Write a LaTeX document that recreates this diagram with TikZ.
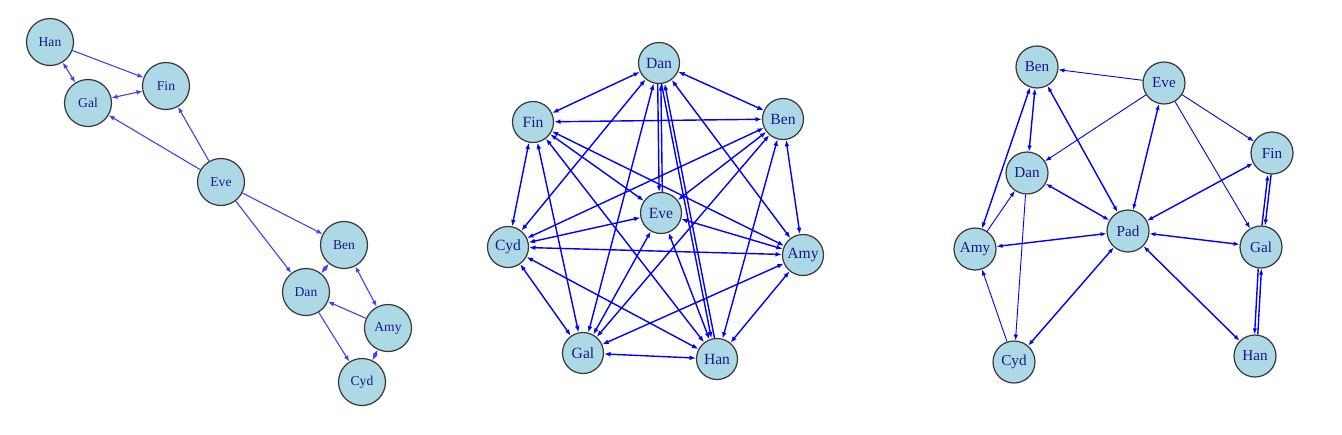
\documentclass[tikz,border=0pt]{standalone}
\usepackage{fontspec}
\setmainfont{Liberation Serif}
\usetikzlibrary{arrows.meta, backgrounds}

\definecolor{nodefill}{RGB}{173,216,230}
\definecolor{nodetext}{RGB}{25,25,140}
\definecolor{nodeline}{RGB}{55,55,55}

\tikzset{
    vertex/.style={circle, draw=nodeline, fill=nodefill, text=nodetext, inner sep=0pt, line width=0.6pt},
    vertexL/.style={vertex, minimum size=23.5pt, font=\fontsize{6.8}{7}\selectfont},
    vertexM/.style={vertex, minimum size=20.5pt, font=\fontsize{7.8}{8}\selectfont},
    vertexR/.style={vertex, minimum size=21pt, font=\fontsize{7.6}{8}\selectfont},
    edgeL/.style={draw=blue!75, line width=0.55pt, >={Latex[length=3pt,width=2.4pt]}},
    edgeM/.style={draw=blue, line width=0.7pt, >={Latex[length=3.2pt,width=2.4pt]}},
    edgeR/.style={draw=blue, line width=0.45pt, >={Latex[length=3pt,width=2.2pt]}},
    edgeRthick/.style={draw=blue, line width=0.7pt, >={Latex[length=3pt,width=2.2pt]}}
}

\begin{document}
\begin{tikzpicture}[x=0.5pt, y=-0.5pt]
    \useasboundingbox (0,0) rectangle (1342,434);

    % Left graph
    \node (L-Han) at (50,42) [vertexL]{Han};
    \node (L-Fin) at (166,86) [vertexL]{Fin};
    \node (L-Gal) at (88,103) [vertexL]{Gal};
    \node (L-Eve) at (221,182) [vertexL]{Eve};
    \node (L-Ben) at (344,245) [vertexL]{Ben};
    \node (L-Dan) at (306,292) [vertexL]{Dan};
    \node (L-Amy) at (388,328) [vertexL]{Amy};
    \node (L-Cyd) at (362,382) [vertexL]{Cyd};

    % Middle graph
    \node (M-Dan) at (659,63) [vertexM]{Dan};
    \node (M-Ben) at (783,119) [vertexM]{Ben};
    \node (M-Fin) at (533,122) [vertexM]{Fin};
    \node (M-Eve) at (661,213) [vertexM]{Eve};
    \node (M-Cyd) at (508,247) [vertexM]{Cyd};
    \node (M-Amy) at (803,255) [vertexM]{Amy};
    \node (M-Gal) at (583,353) [vertexM]{Gal};
    \node (M-Han) at (717,359) [vertexM]{Han};

    % Right graph
    \node (R-Ben) at (1037,67) [vertexR]{Ben};
    \node (R-Eve) at (1164,83) [vertexR]{Eve};
    \node (R-Fin) at (1272,153) [vertexR]{Fin};
    \node (R-Dan) at (1027,173) [vertexR]{Dan};
    \node (R-Pad) at (1128,231) [vertexR]{Pad};
    \node (R-Amy) at (975,249) [vertexR]{Amy};
    \node (R-Gal) at (1261,247) [vertexR]{Gal};
    \node (R-Cyd) at (1014,362) [vertexR]{Cyd};
    \node (R-Han) at (1255,356) [vertexR]{Han};

    \begin{scope}[on background layer]
        % Left edges
        \draw[edgeL, ->] (L-Han) -- (L-Fin);
        \draw[edgeL, <->] (L-Han) -- (L-Gal);
        \draw[edgeL, <->] (L-Gal) -- (L-Fin);
        \draw[edgeL, ->] (L-Eve) -- (L-Gal);
        \draw[edgeL, ->] (L-Eve) -- (L-Fin);
        \draw[edgeL, ->] (L-Eve) -- (L-Ben);
        \draw[edgeL, ->] (L-Eve) -- (L-Dan);
        \draw[edgeL, <->] (L-Ben) -- (L-Dan);
        \draw[edgeL, <->] (L-Ben) -- (L-Amy);
        \draw[edgeL, ->] (L-Amy) -- (L-Dan);
        \draw[edgeL, ->] (L-Dan) -- (L-Cyd);
        \draw[edgeL, <->] (L-Cyd) -- (L-Amy);

        %%%%%%%%%%%%%%%%%%%
        % Middle edges
        \draw[edgeM, <->] (M-Dan) -- (M-Ben);
        \draw[edgeM, <->] (M-Dan) -- (M-Fin);
        \draw[edgeM, <->] (M-Dan) -- (M-Cyd);
        \draw[edgeM, <->] (M-Dan) -- (M-Amy);
        \draw[edgeM, <->] (M-Dan) -- (M-Gal);
        \draw[edgeM, ->, transform canvas={xshift=-0.8pt}] (M-Dan) -- (M-Eve);
        \draw[edgeM, ->, transform canvas={xshift=0.8pt}] (M-Eve) -- (M-Dan);
        \draw[edgeM, ->, transform canvas={xshift=-0.8pt}] (M-Dan) -- (M-Han);
        \draw[edgeM, ->, transform canvas={xshift=0.8pt}] (M-Han) -- (M-Dan);
        \draw[edgeM, <->] (M-Fin) -- (M-Ben);
        \draw[edgeM, <->] (M-Fin) -- (M-Cyd);
        \draw[edgeM, <->] (M-Fin) -- (M-Eve);
        \draw[edgeM, <->] (M-Fin) -- (M-Amy);
        \draw[edgeM, <->] (M-Fin) -- (M-Gal);
        \draw[edgeM, <->] (M-Fin) -- (M-Han);
        \draw[edgeM, <->] (M-Ben) -- (M-Cyd);
        \draw[edgeM, <->] (M-Ben) -- (M-Eve);
        \draw[edgeM, <->] (M-Ben) -- (M-Amy);
        \draw[edgeM, <->] (M-Ben) -- (M-Gal);
        \draw[edgeM, <->] (M-Ben) -- (M-Han);
        \draw[edgeM, <->] (M-Cyd) -- (M-Eve);
        \draw[edgeM, <->] (M-Cyd) -- (M-Amy);
        \draw[edgeM, <->] (M-Cyd) -- (M-Gal);
        \draw[edgeM, <->] (M-Cyd) -- (M-Han);
        \draw[edgeM, <->] (M-Eve) -- (M-Amy);
        \draw[edgeM, <->] (M-Eve) -- (M-Gal);
        \draw[edgeM, <->] (M-Eve) -- (M-Han);
        \draw[edgeM, <->] (M-Amy) -- (M-Gal);
        \draw[edgeM, <->] (M-Amy) -- (M-Han);
        \draw[edgeM, <->] (M-Gal) -- (M-Han);

        %%%%%%%%%%%%%%%%%%%
        % Right edges
        \draw[edgeR, ->] (R-Eve) -- (R-Ben);
        \draw[edgeR, ->] (R-Eve) -- (R-Dan);
        \draw[edgeR, ->] (R-Eve) -- (R-Fin);
        \draw[edgeR, ->] (R-Eve) -- (R-Gal);
        \draw[edgeR, ->] (R-Amy) -- (R-Dan);
        \draw[edgeR, ->] (R-Dan) -- (R-Cyd);
        \draw[edgeR, ->] (R-Cyd) -- (R-Amy);
        \draw[edgeRthick, <->] (R-Eve) -- (R-Pad);
        \draw[edgeRthick, <->] (R-Ben) -- (R-Dan);
        \draw[edgeRthick, <->] (R-Ben) -- (R-Amy);
        \draw[edgeRthick, <->] (R-Ben) -- (R-Pad);
        \draw[edgeRthick, <->] (R-Dan) -- (R-Pad);
        \draw[edgeRthick, <->] (R-Amy) -- (R-Pad);
        \draw[edgeRthick, <->] (R-Cyd) -- (R-Pad);
        \draw[edgeRthick, <->] (R-Fin) -- (R-Pad);
        \draw[edgeRthick, <->] (R-Gal) -- (R-Pad);
        \draw[edgeRthick, <->] (R-Han) -- (R-Pad);
        \draw[edgeRthick, ->, transform canvas={xshift=-0.8pt}] (R-Gal) -- (R-Fin);
        \draw[edgeRthick, ->, transform canvas={xshift=0.8pt}] (R-Fin) -- (R-Gal);
        \draw[edgeRthick, ->, transform canvas={xshift=-0.8pt}] (R-Gal) -- (R-Han);
        \draw[edgeRthick, ->, transform canvas={xshift=0.8pt}] (R-Han) -- (R-Gal);
    \end{scope}
\end{tikzpicture}
\end{document}
